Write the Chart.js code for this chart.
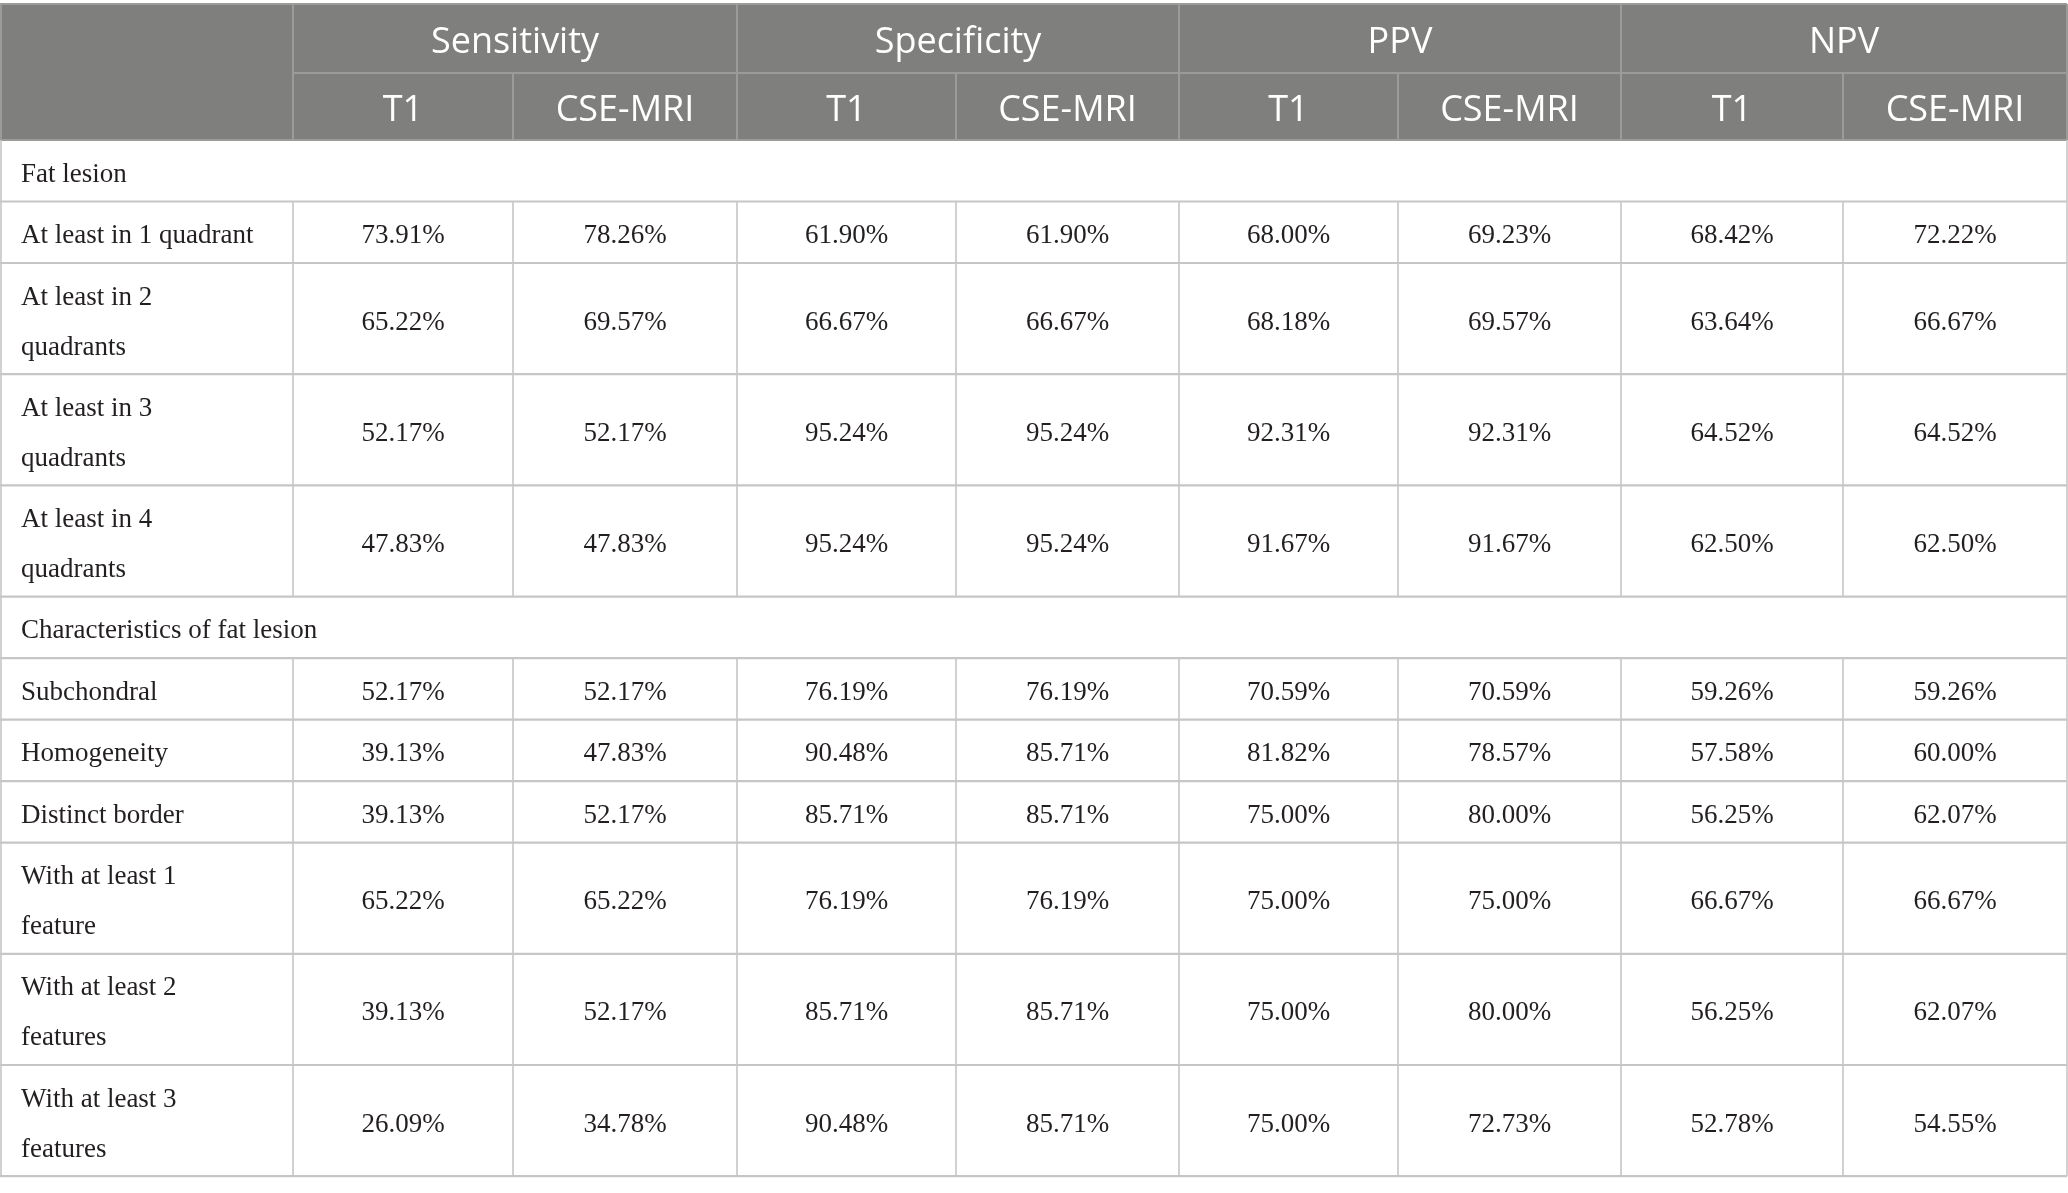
<!DOCTYPE html>
<html>
<head>
<meta charset="utf-8">
<script src="https://cdn.jsdelivr.net/npm/chart.js@4.4.1/dist/chart.umd.min.js"></script>
<style>
  html, body { margin: 0; padding: 0; background: #ffffff; }
  canvas { display: block; }
</style>
</head>
<body>
<canvas id="tableChart" width="2068" height="1193"></canvas>
<script>
// table content
var groups = ['Sensitivity', 'Specificity', 'PPV', 'NPV'];
var methods = ['T1', 'CSE-MRI'];
var sections = ['Fat lesion', 'Characteristics of fat lesion'];
var rowLabels = [
  ['At least in 1 quadrant'],
  ['At least in 2', 'quadrants'],
  ['At least in 3', 'quadrants'],
  ['At least in 4', 'quadrants'],
  ['Subchondral'],
  ['Homogeneity'],
  ['Distinct border'],
  ['With at least 1', 'feature'],
  ['With at least 2', 'features'],
  ['With at least 3', 'features']
];
var rowSection = [0, 0, 0, 0, 1, 1, 1, 1, 1, 1];

var sensT1  = [73.91, 65.22, 52.17, 47.83, 52.17, 39.13, 39.13, 65.22, 39.13, 26.09];
var sensCse = [78.26, 69.57, 52.17, 47.83, 52.17, 47.83, 52.17, 65.22, 52.17, 34.78];
var specT1  = [61.90, 66.67, 95.24, 95.24, 76.19, 90.48, 85.71, 76.19, 85.71, 90.48];
var specCse = [61.90, 66.67, 95.24, 95.24, 76.19, 85.71, 85.71, 76.19, 85.71, 85.71];
var ppvT1   = [68.00, 68.18, 92.31, 91.67, 70.59, 81.82, 75.00, 75.00, 75.00, 75.00];
var ppvCse  = [69.23, 69.57, 92.31, 91.67, 70.59, 78.57, 80.00, 75.00, 80.00, 72.73];
var npvT1   = [68.42, 63.64, 64.52, 62.50, 59.26, 57.58, 56.25, 66.67, 56.25, 52.78];
var npvCse  = [72.22, 66.67, 64.52, 62.50, 59.26, 60.00, 62.07, 66.67, 62.07, 54.55];

var valueColumns = [sensT1, sensCse, specT1, specCse, ppvT1, ppvCse, npvT1, npvCse];

// layout (canvas units)
var W = 2068, H = 1193;
var colEdges = [0, 293, 513, 737, 956, 1179, 1398, 1621, 1843, 2067];
var tableTop = 4, head1Bottom = 73, head2Bottom = 140;
var singleH = 61.5, doubleH = 111.2, lineGap = 50;

// build body rows: section header rows + data rows
var bodyRows = [];
var y = head2Bottom;
var lastSection = -1;
rowLabels.forEach(function (lab, i) {
  if (rowSection[i] !== lastSection) {
    lastSection = rowSection[i];
    bodyRows.push({ type: 'section', label: [sections[lastSection]], top: y, bottom: y + singleH });
    y += singleH;
  }
  var h = lab.length > 1 ? doubleH : singleH;
  bodyRows.push({ type: 'data', label: lab, index: i, top: y, bottom: y + h });
  y += h;
});

var dataRows = bodyRows.filter(function (r) { return r.type === 'data'; });

var datasets = valueColumns.map(function (vals, c) {
  var cx = (colEdges[c + 1] + colEdges[c + 2]) / 2;
  return {
    label: groups[Math.floor(c / 2)] + ' ' + methods[c % 2],
    data: vals.map(function (v, i) {
      var r = dataRows[i];
      return { x: cx, y: (r.top + r.bottom) / 2, v: v };
    }),
    pointRadius: 0
  };
});

var bodyFont = '27px "Liberation Serif", "DejaVu Serif", serif';
var headFont = '36px "Open Sans", "Noto Sans", sans-serif';
var textShift = 4;

var tablePlugin = {
  id: 'tablePlugin',
  beforeDatasetsDraw: function (chart) {
    var c = chart.ctx;
    var sx = chart.scales.x, sy = chart.scales.y;
    var px = function (v) { return sx.getPixelForValue(v); };
    var py = function (v) { return sy.getPixelForValue(v); };
    c.save();

    // header background
    c.fillStyle = '#7f807e';
    c.fillRect(px(0), py(tableTop), px(colEdges[9]) - px(0) + 1, py(head2Bottom) - py(tableTop));

    // header lines
    c.strokeStyle = '#9b9c9a';
    c.lineWidth = 2;
    c.beginPath();
    c.moveTo(px(0), py(tableTop)); c.lineTo(px(colEdges[9]), py(tableTop));
    c.moveTo(px(colEdges[1]), py(head1Bottom)); c.lineTo(px(colEdges[9]), py(head1Bottom));
    c.moveTo(px(0), py(head2Bottom)); c.lineTo(px(colEdges[9]), py(head2Bottom));
    c.moveTo(px(0) + 1, py(tableTop)); c.lineTo(px(0) + 1, py(head2Bottom));
    c.moveTo(px(colEdges[9]), py(tableTop)); c.lineTo(px(colEdges[9]), py(head2Bottom));
    for (var k = 1; k < 9; k++) {
      var top = (k % 2 === 1) ? tableTop : head1Bottom;
      c.moveTo(px(colEdges[k]), py(top)); c.lineTo(px(colEdges[k]), py(head2Bottom));
    }
    c.stroke();

    // header text
    c.fillStyle = '#ffffff';
    c.font = headFont;
    c.textAlign = 'center';
    c.textBaseline = 'middle';
    groups.forEach(function (g, gi) {
      var xc = (px(colEdges[1 + gi * 2]) + px(colEdges[3 + gi * 2])) / 2;
      c.fillText(g, xc, (py(tableTop) + py(head1Bottom)) / 2 + textShift);
      methods.forEach(function (m, mi) {
        var k = 1 + gi * 2 + mi;
        c.fillText(m, (px(colEdges[k]) + px(colEdges[k + 1])) / 2, (py(head1Bottom) + py(head2Bottom)) / 2 + textShift);
      });
    });

    // body grid
    c.strokeStyle = '#c6c6c6';
    c.lineWidth = 2.2;
    c.beginPath();
    bodyRows.forEach(function (r) {
      c.moveTo(px(0), py(r.bottom)); c.lineTo(px(colEdges[9]), py(r.bottom));
    });
    c.stroke();
    c.lineWidth = 1.6;
    c.beginPath();
    bodyRows.forEach(function (r) {
      c.moveTo(px(0) + 1, py(r.top)); c.lineTo(px(0) + 1, py(r.bottom));
      c.moveTo(px(colEdges[9]), py(r.top)); c.lineTo(px(colEdges[9]), py(r.bottom));
      if (r.type === 'data') {
        for (var k = 1; k < 9; k++) {
          c.moveTo(px(colEdges[k]), py(r.top)); c.lineTo(px(colEdges[k]), py(r.bottom));
        }
      }
    });
    c.stroke();

    // row labels
    c.fillStyle = '#231f20';
    c.font = bodyFont;
    c.textAlign = 'left';
    bodyRows.forEach(function (r) {
      var mid = (py(r.top) + py(r.bottom)) / 2;
      var n = r.label.length;
      r.label.forEach(function (t, li) {
        c.fillText(t, px(21), mid + (li - (n - 1) / 2) * lineGap + textShift);
      });
    });
    c.restore();
  },
  afterDatasetsDraw: function (chart) {
    var c = chart.ctx;
    c.save();
    c.fillStyle = '#231f20';
    c.font = bodyFont;
    c.textAlign = 'center';
    c.textBaseline = 'middle';
    chart.data.datasets.forEach(function (ds, di) {
      var meta = chart.getDatasetMeta(di);
      meta.data.forEach(function (pt, i) {
        c.fillText(ds.data[i].v.toFixed(2) + '%', pt.x, pt.y + textShift);
      });
    });
    c.restore();
  }
};

var ctx = document.getElementById('tableChart').getContext('2d');
var tableChart = new Chart(ctx, {
  type: 'scatter',
  data: { datasets: datasets },
  options: {
    responsive: false,
    animation: false,
    devicePixelRatio: 1,
    layout: { padding: 0 },
    events: [],
    plugins: { legend: { display: false }, tooltip: { enabled: false } },
    scales: {
      x: { type: 'linear', min: 0, max: W, display: false },
      y: { type: 'linear', min: 0, max: H, reverse: true, display: false }
    }
  },
  plugins: [tablePlugin]
});
</script>
</body>
</html>
